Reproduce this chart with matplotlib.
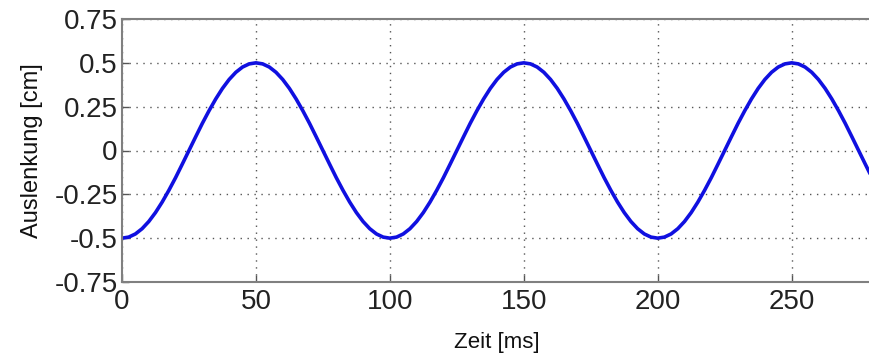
import matplotlib
matplotlib.use("Agg")
import matplotlib.pyplot as plt

# Zeit [ms], sampled every 2.5 ms from the picture
zeit = [0, 2.5, 5, 7.5, 10, 12.5, 15, 17.5, 20, 22.5,
        25, 27.5, 30, 32.5, 35, 37.5, 40, 42.5, 45, 47.5,
        50, 52.5, 55, 57.5, 60, 62.5, 65, 67.5, 70, 72.5,
        75, 77.5, 80, 82.5, 85, 87.5, 90, 92.5, 95, 97.5,
        100, 102.5, 105, 107.5, 110, 112.5, 115, 117.5, 120, 122.5,
        125, 127.5, 130, 132.5, 135, 137.5, 140, 142.5, 145, 147.5,
        150, 152.5, 155, 157.5, 160, 162.5, 165, 167.5, 170, 172.5,
        175, 177.5, 180, 182.5, 185, 187.5, 190, 192.5, 195, 197.5,
        200, 202.5, 205, 207.5, 210, 212.5, 215, 217.5, 220, 222.5,
        225, 227.5, 230, 232.5, 235, 237.5, 240, 242.5, 245, 247.5,
        250, 252.5, 255, 257.5, 260, 262.5, 265, 267.5, 270, 272.5,
        275, 277.5, 280]

# Auslenkung [cm]
auslenkung = [-0.500, -0.494, -0.476, -0.446, -0.405, -0.354, -0.294, -0.227, -0.155, -0.078,
              0.000, 0.078, 0.155, 0.227, 0.294, 0.354, 0.405, 0.446, 0.476, 0.494,
              0.500, 0.494, 0.476, 0.446, 0.405, 0.354, 0.294, 0.227, 0.155, 0.078,
              0.000, -0.078, -0.155, -0.227, -0.294, -0.354, -0.405, -0.446, -0.476, -0.494,
              -0.500, -0.494, -0.476, -0.446, -0.405, -0.354, -0.294, -0.227, -0.155, -0.078,
              0.000, 0.078, 0.155, 0.227, 0.294, 0.354, 0.405, 0.446, 0.476, 0.494,
              0.500, 0.494, 0.476, 0.446, 0.405, 0.354, 0.294, 0.227, 0.155, 0.078,
              0.000, -0.078, -0.155, -0.227, -0.294, -0.354, -0.405, -0.446, -0.476, -0.494,
              -0.500, -0.494, -0.476, -0.446, -0.405, -0.354, -0.294, -0.227, -0.155, -0.078,
              0.000, 0.078, 0.155, 0.227, 0.294, 0.354, 0.405, 0.446, 0.476, 0.494,
              0.500, 0.494, 0.476, 0.446, 0.405, 0.354, 0.294, 0.227, 0.155, 0.078,
              0.000, -0.078, -0.155]

x_ticks = [0, 50, 100, 150, 200, 250]
y_ticks = [-0.75, -0.5, -0.25, 0, 0.25, 0.5, 0.75]
y_ticklabels = ["-0.75", "-0.5", "-0.25", "0", "0.25", "0.5", "0.75"]

plt.rcParams['font.family'] = ['Liberation Sans', 'DejaVu Sans']

fig = plt.figure(figsize=(8.7, 3.58), dpi=100)
ax = fig.add_axes([122 / 870, 1 - 282 / 358, 750 / 870, 263 / 358])

ax.plot(zeit, auslenkung, color='#1010e0', linewidth=2.6, solid_capstyle='round')

ax.set_xlim(0, 280)
ax.set_ylim(-0.75, 0.75)
ax.set_xticks(x_ticks)
ax.set_yticks(y_ticks)
ax.set_yticklabels(y_ticklabels)
ax.tick_params(direction='in', length=5, width=1, color='#555555',
               labelsize=20, labelcolor='#222222')
ax.tick_params(axis='y', pad=3)
ax.tick_params(axis='x', pad=5)
ax.grid(True, linestyle=(0, (1, 4)), color='#555555', linewidth=1)

for side in ['left', 'bottom', 'top']:
    ax.spines[side].set_color('#808080')
    ax.spines[side].set_linewidth(1.5)
ax.spines['right'].set_visible(False)

ax.set_xlabel('Zeit [ms]', fontsize=16, labelpad=12, color='#111111')
ax.set_ylabel('Auslenkung [cm]', fontsize=17, labelpad=8, color='#111111')

fig.savefig('out.png', dpi=100)
